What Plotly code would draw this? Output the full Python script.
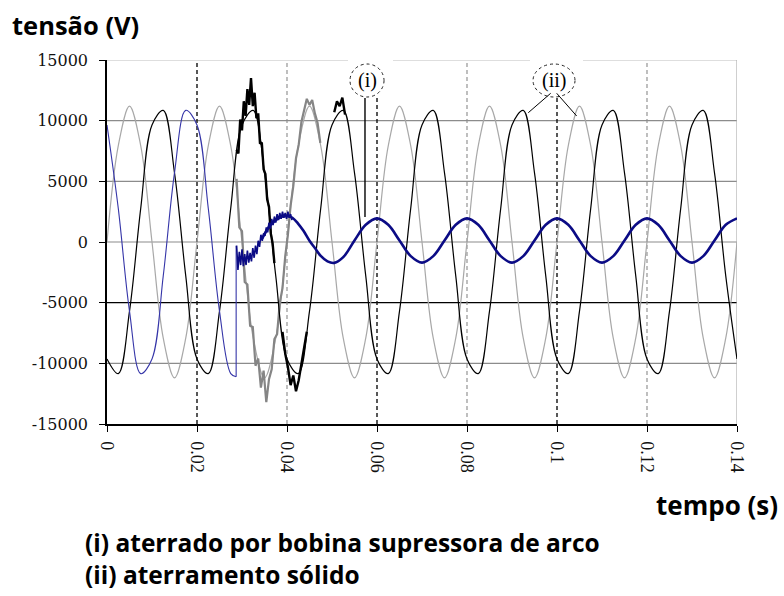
import plotly.graph_objects as go

# ---------------- data ----------------
tempo = [0.0, 0.0025, 0.005, 0.0075, 0.01, 0.0125, 0.015, 0.0175,
         0.02, 0.0225, 0.025, 0.0275, 0.03, 0.0325, 0.035, 0.0375,
         0.04, 0.0425, 0.045, 0.0475, 0.05, 0.0525, 0.055, 0.0575,
         0.06, 0.0625, 0.065, 0.0675, 0.07, 0.0725, 0.075, 0.0775,
         0.08, 0.0825, 0.085, 0.0875, 0.09, 0.0925, 0.095, 0.0975,
         0.1, 0.1025, 0.105, 0.1075, 0.11, 0.1125, 0.115, 0.1175,
         0.12, 0.1225, 0.125, 0.1275, 0.13, 0.1325, 0.135, 0.1375, 0.14]

fase_preta = [-9640, -10850, -5700, 2790, 9640, 10850, 5700, -2790,
              -9640, -10850, -5700, 2790, 9640, 10850, 5700, -2790,
              -9640, -10850, -5700, 2790, 9640, 10850, 5700, -2790,
              -9640, -10850, -5700, 2790, 9640, 10850, 5700, -2790,
              -9640, -10850, -5700, 2790, 9640, 10850, 5700, -2790,
              -9640, -10850, -5700, 2790, 9640, 10850, 5700, -2790,
              -9640, -10850, -5700, 2790, 9640, 10850, 5700, -2790,
              -9640]

fase_cinza = [0, 7920, 11200, 7920, 0, -7920, -11200, -7920,
              0, 7920, 11200, 7920, 0, -7920, -11200, -7920,
              0, 7920, 11200, 7920, 0, -7920, -11200, -7920,
              0, 7920, 11200, 7920, 0, -7920, -11200, -7920,
              0, 7920, 11200, 7920, 0, -7920, -11200, -7920,
              0, 7920, 11200, 7920, 0, -7920, -11200, -7920,
              0, 7920, 11200, 7920, 0, -7920, -11200, -7920,
              0]

# faulted (blue) phase before the fault
tempo_azul_pre = [0.0, 0.0025, 0.005, 0.0075, 0.01, 0.0125, 0.015, 0.0175,
                  0.02, 0.0225, 0.025, 0.0275, 0.0287]
azul_pre = [9640, 2790, -5700, -10850, -9640, -2790, 5700, 10850,
            9640, 2790, -5700, -10850, -11110]

tempo_falta = [0.0287, 0.0287]
azul_falta = [-11110, -300]

# blue phase after the fault (noisy start)
tempo_azul_ruido = [0.0288, 0.0291, 0.0294, 0.0297, 0.0300, 0.0303, 0.0306,
                    0.0309, 0.0312, 0.0315, 0.0318, 0.0321, 0.0324, 0.0327,
                    0.0330, 0.0333, 0.0336, 0.0339, 0.0342, 0.0345, 0.0348,
                    0.0351, 0.0354, 0.0357, 0.0360, 0.0363, 0.0366, 0.0369,
                    0.0372, 0.0375, 0.0378, 0.0381, 0.0384, 0.0387, 0.0390,
                    0.0393, 0.0396, 0.0399, 0.0402, 0.0405, 0.0408, 0.0411]
azul_ruido = [-300, -2300, -800, -1900, -600, -2000, -1000,
              -1900, -700, -1700, -900, -1600, -500, -1300,
              -300, -1000, 100, -400, 600, 100, 700,
              500, 1200, 800, 1600, 1100, 1900, 1400,
              2100, 1600, 2300, 1800, 2400, 1900, 2500,
              2000, 2400, 1900, 2500, 2000, 2300, 1800]

tempo_azul_pos = [0.0345, 0.036, 0.0375, 0.039, 0.04, 0.0412, 0.0425, 0.0437,
                  0.045, 0.0462, 0.0475, 0.049, 0.0505, 0.0525, 0.055, 0.0575,
                  0.06, 0.0625, 0.065, 0.0675, 0.07, 0.0725, 0.075, 0.0775,
                  0.08, 0.0825, 0.085, 0.0875, 0.09, 0.0925, 0.095, 0.0975,
                  0.1, 0.1025, 0.105, 0.1075, 0.11, 0.1125, 0.115, 0.1175,
                  0.12, 0.1225, 0.125, 0.1275, 0.13, 0.1325, 0.135, 0.1375, 0.14]
azul_pos = [300, 1250, 1800, 2100, 2150, 2000, 1500, 900,
            100, -500, -1150, -1600, -1720, -1250, 125, 1415,
            1950, 1415, 125, -1165, -1700, -1165, 125, 1415,
            1950, 1415, 125, -1165, -1700, -1165, 125, 1415,
            1950, 1415, 125, -1165, -1700, -1165, 125, 1415,
            1950, 1415, 125, -1165, -1700, -1165, 125, 1415, 1950]

# transient noise on the healthy phases
tempo_preta_ruido = [0.0288, 0.0292, 0.0296, 0.0300, 0.0304, 0.0308, 0.0312,
                     0.0316, 0.0320, 0.0324, 0.0328, 0.0332, 0.0336, 0.0340,
                     0.0344, 0.0348, 0.0352, 0.0356, 0.0360, 0.0364, 0.0368,
                     0.0372, None,
                     0.0390, 0.0396, 0.0402, 0.0408, 0.0414, 0.0420, 0.0426,
                     0.0432, 0.0438, 0.0444, None,
                     0.0505, 0.0511, 0.0517, 0.0523, 0.0529]
preta_ruido = [7600, 7300, 10100, 9200, 11600, 10400, 12600,
               11300, 13500, 11200, 12300, 10200, 10600, 8100,
               8200, 6000, 5600, 3500, 2900, 700, -100,
               -1750, None,
               -7400, -9200, -10300, -11800, -11000, -12300, -11400,
               -10100, -8600, -7400, None,
               10700, 11600, 11200, 11900, 10500]

tempo_cinza_ruido = [0.0288, 0.0294, 0.0300, 0.0306, 0.0312, 0.0318, 0.0324,
                     0.0330, 0.0336, 0.0342, 0.0348, 0.0354, 0.0360, 0.0366,
                     0.0372, 0.0378, 0.0384, 0.0390, 0.0396, 0.0402, 0.0408,
                     0.0414, 0.0420, 0.0426, 0.0432, 0.0438, 0.0444, 0.0450,
                     0.0456, 0.0462, 0.0468, 0.0474]
cinza_ruido = [5200, 1200, 900, -3300, -3500, -6900, -7000,
               -10200, -9600, -12000, -10600, -13200, -11300, -10500,
               -8000, -7600, -5000, -3800, -1200, 600, 3000,
               4600, 6900, 8000, 9900, 10900, 11800, 11300,
               11700, 10600, 9800, 8165]

marcas_y = [15000, 10000, 5000, 0, -5000, -10000, -15000]
rotulos_y = ["15000", "10000", "5000", "0", "-5000", "-10000", "-15000"]
marcas_x = [0, 0.02, 0.04, 0.06, 0.08, 0.1, 0.12, 0.14]
rotulos_x = ["0", "0.02", "0.04", "0.06", "0.08", "0.1", "0.12", "0.14"]

grade_h = [15000, 10000, 5000, 0, -5000, -10000]
cor_grade_h = ["#bdbdbd", "#8c8c8c", "#8c8c8c", "#8c8c8c", "#000000", "#8c8c8c"]
grade_v_preta = [0.02, 0.06, 0.1]
grade_v_cinza = [0.04, 0.08, 0.12]

legenda = ["(i) aterrado por bobina supressora de arco", "(ii) aterramento sólido"]

# ---------------- figure ----------------
fig = go.Figure()

fig.add_trace(go.Scatter(x=tempo, y=fase_cinza, mode="lines",
                         line=dict(color="#a8a8a8", width=1.2, shape="spline")))
fig.add_trace(go.Scatter(x=tempo_cinza_ruido, y=cinza_ruido, mode="lines",
                         line=dict(color="#858585", width=2.2)))
fig.add_trace(go.Scatter(x=tempo, y=fase_preta, mode="lines",
                         line=dict(color="#000000", width=1.2, shape="spline")))
fig.add_trace(go.Scatter(x=tempo_preta_ruido, y=preta_ruido, mode="lines",
                         connectgaps=False,
                         line=dict(color="#000000", width=2.4)))
fig.add_trace(go.Scatter(x=tempo_azul_pre, y=azul_pre, mode="lines",
                         line=dict(color="#3535a8", width=1.1, shape="spline")))
fig.add_trace(go.Scatter(x=tempo_falta, y=azul_falta, mode="lines",
                         line=dict(color="#3535a8", width=1.1)))
fig.add_trace(go.Scatter(x=tempo_azul_ruido, y=azul_ruido, mode="lines",
                         line=dict(color="#0b0b85", width=1.6)))
fig.add_trace(go.Scatter(x=tempo_azul_pos, y=azul_pos, mode="lines",
                         line=dict(color="#0b0b85", width=2.6, shape="spline")))

shapes = []
for v, c in zip(grade_h, cor_grade_h):
    shapes.append(dict(type="line", xref="x", yref="y", x0=0, x1=0.14, y0=v, y1=v,
                       line=dict(color=c, width=1.2), layer="below"))
for v in grade_v_cinza:
    shapes.append(dict(type="line", xref="x", yref="y", x0=v, x1=v, y0=-15000, y1=15000,
                       line=dict(color="#8a8a8a", width=1.1, dash="4px,3px"), layer="below"))
for v in grade_v_preta:
    shapes.append(dict(type="line", xref="x", yref="y", x0=v, x1=v, y0=-15000, y1=15000,
                       line=dict(color="#111111", width=1.4, dash="4px,3px"), layer="below"))
# right border
shapes.append(dict(type="line", xref="x", yref="y", x0=0.14, x1=0.14, y0=-15000, y1=15000,
                   line=dict(color="#b0b0b0", width=1.2), layer="below"))

# label backgrounds, ellipses and pointer lines
for x0, x1 in [(0.05356, 0.06356), (0.0940, 0.10578)]:
    shapes.append(dict(type="rect", xref="x", yref="y", x0=x0, x1=x1, y0=11900, y1=15300,
                       fillcolor="white", line=dict(width=0), layer="above"))
for x0, x1 in [(0.0540, 0.06156), (0.09467, 0.1040)]:
    shapes.append(dict(type="circle", xref="x", yref="y", x0=x0, x1=x1, y0=11950, y1=14670,
                       line=dict(color="#222222", width=1, dash="dot"), layer="above"))
shapes.append(dict(type="line", xref="x", yref="y", x0=0.05733, x1=0.05733, y0=11870, y1=2060,
                   line=dict(color="#000000", width=1.4), layer="above"))
shapes.append(dict(type="line", xref="x", yref="y", x0=0.0986, x1=0.09362, y0=12256, y1=10657,
                   line=dict(color="#000000", width=1), layer="above"))
shapes.append(dict(type="line", xref="x", yref="y", x0=0.09993, x1=0.10437, y0=12256, y1=10385,
                   line=dict(color="#000000", width=1), layer="above"))

annotations = [
    dict(text="(i)", x=0.05778, y=13310, xref="x", yref="y", showarrow=False,
         font=dict(family="Liberation Serif", size=20, color="#000")),
    dict(text="(ii)", x=0.09933, y=13310, xref="x", yref="y", showarrow=False,
         font=dict(family="Liberation Serif", size=20, color="#000")),
    dict(text="<b>tensão (V)</b>", x=(10 - 107) / 630, y=(424 - 25) / 364,
         xref="paper", yref="paper", xanchor="left", yanchor="middle", showarrow=False,
         font=dict(family="Open Sans", size=25.5, color="#000")),
    dict(text="<b>tempo (s)</b>", x=(654 - 107) / 630, y=(424 - 505) / 364,
         xref="paper", yref="paper", xanchor="left", yanchor="middle", showarrow=False,
         font=dict(family="Open Sans", size=26, color="#000")),
    dict(text="<br>".join("<b>%s</b>" % s for s in legenda), x=(83 - 107) / 630,
         y=(424 - 524) / 364, xref="paper", yref="paper", xanchor="left", yanchor="top",
         align="left", showarrow=False,
         font=dict(family="Open Sans", size=24.5, color="#000")),
]

fig.update_layout(
    width=784, height=596,
    margin=dict(l=107, r=47, t=60, b=172),
    paper_bgcolor="white", plot_bgcolor="white",
    showlegend=False,
    shapes=shapes, annotations=annotations,
    xaxis=dict(range=[0, 0.14], tickvals=marcas_x, ticktext=rotulos_x, tickangle=90,
               showgrid=False, zeroline=False, showline=True, linecolor="#000",
               linewidth=1.5, ticks="outside", ticklen=6, tickcolor="#000",
               ticklabelstandoff=6,
               tickfont=dict(family="Liberation Serif", size=18, color="#111")),
    yaxis=dict(range=[-15000, 15000], tickvals=marcas_y, ticktext=rotulos_y,
               showgrid=False, zeroline=False, showline=True, linecolor="#000",
               linewidth=1.5, ticks="outside", ticklen=6, tickcolor="#000",
               ticklabelstandoff=8,
               tickfont=dict(family="DejaVu Serif", size=16, color="#111")),
)

fig.write_html("out.html")
